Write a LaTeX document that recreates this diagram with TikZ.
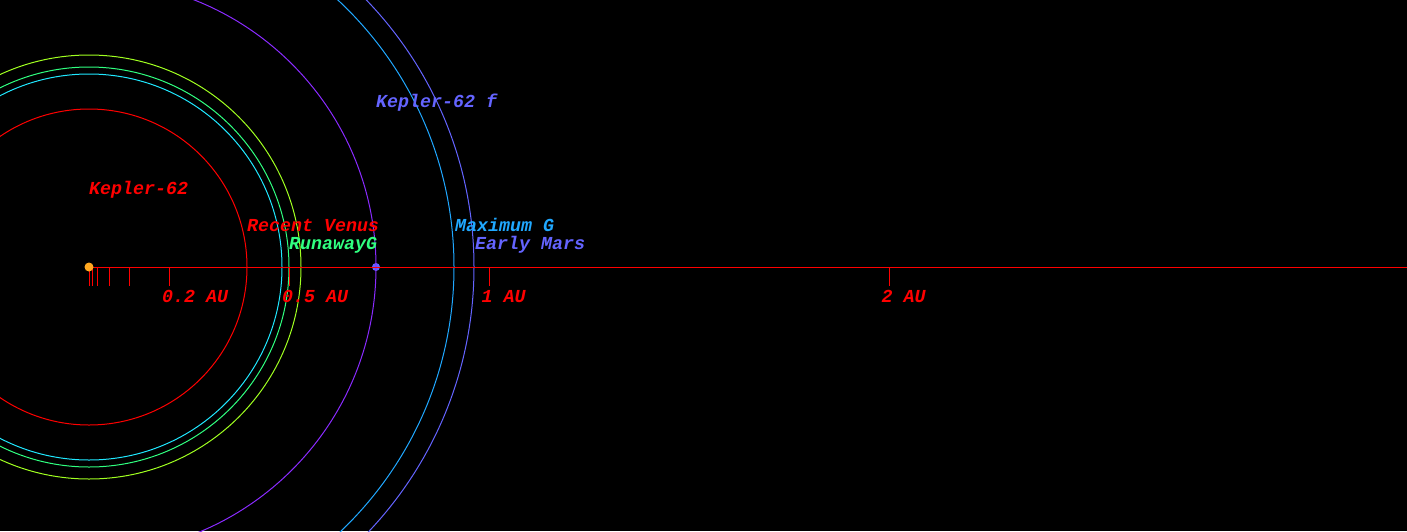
\documentclass[tikz,border=0pt]{standalone}
\usepackage{fontspec}
\newfontfamily\orbfont{Liberation Mono}
\definecolor{cRed}{HTML}{FF0000}
\definecolor{cCyan}{HTML}{20E8FF}
\definecolor{cGreen}{HTML}{30FF80}
\definecolor{cLime}{HTML}{A0FF20}
\definecolor{cPurple}{HTML}{8A2BFF}
\definecolor{cSky}{HTML}{20A8FF}
\definecolor{cViolet}{HTML}{6464FF}
\definecolor{cStar}{HTML}{FFA820}
\begin{document}
\begin{tikzpicture}[x=1pt,y=-1pt,
  orbit/.style={line width=1pt},
  lbl/.style={anchor=base west,inner sep=0pt,font=\orbfont\bfseries\itshape\fontsize{18.3}{20}\selectfont},
  tickmark/.style={cRed,line width=1pt}]
\fill[black] (0,0) rectangle (1407,531);
\useasboundingbox (0,0) rectangle (1407,531);
\clip (0,0) rectangle (1407,531);
\coordinate (c) at (89,267);
% planet dot
\fill[cViolet] (376,267) circle (4);
% orbits / zones
\draw[orbit,cRed] (c) circle (158);
\draw[orbit,cCyan] (c) circle (193);
\draw[orbit,cGreen] (c) circle (200);
\draw[orbit,cLime] (c) circle (212);
\draw[orbit,cPurple] (c) circle (287);
\draw[orbit,cSky] (c) circle (365);
\draw[orbit,cViolet] (c) circle (385);
% axis
\coordinate (axend) at (1407,267);
\draw[tickmark] (c) -- (axend);
\foreach \au in {0,0.01,0.02,0.05,0.1,0.2,0.5,1,2}{
  \draw[tickmark] (89+400*\au,267) -- ++(0,19);
}
% star
\fill[cStar] (c) circle (4.5);
% labels
\node[lbl,text=cRed] (kstar) at (89,194) {Kepler-62};
\node[lbl,text=cViolet] (kplanet) at (376,107) {Kepler-62 f};
\node[lbl,text=cRed] (rv) at (247,231) {Recent Venus};
\node[lbl,text=cGreen] (rg) at (289,249) {RunawayG};
\node[lbl,text=cSky] (mg) at (455,231) {Maximum G};
\node[lbl,text=cViolet] (em) at (475,249) {Early Mars};
\node[lbl,text=cRed] (a02) at (162,302) {0.2 AU};
\node[lbl,text=cRed] (a05) at (282,302) {0.5 AU};
\node[lbl,text=cRed] (a1) at (481.5,302) {1 AU};
\node[lbl,text=cRed] (a2) at (881.5,302) {2 AU};
\end{tikzpicture}
\end{document}
